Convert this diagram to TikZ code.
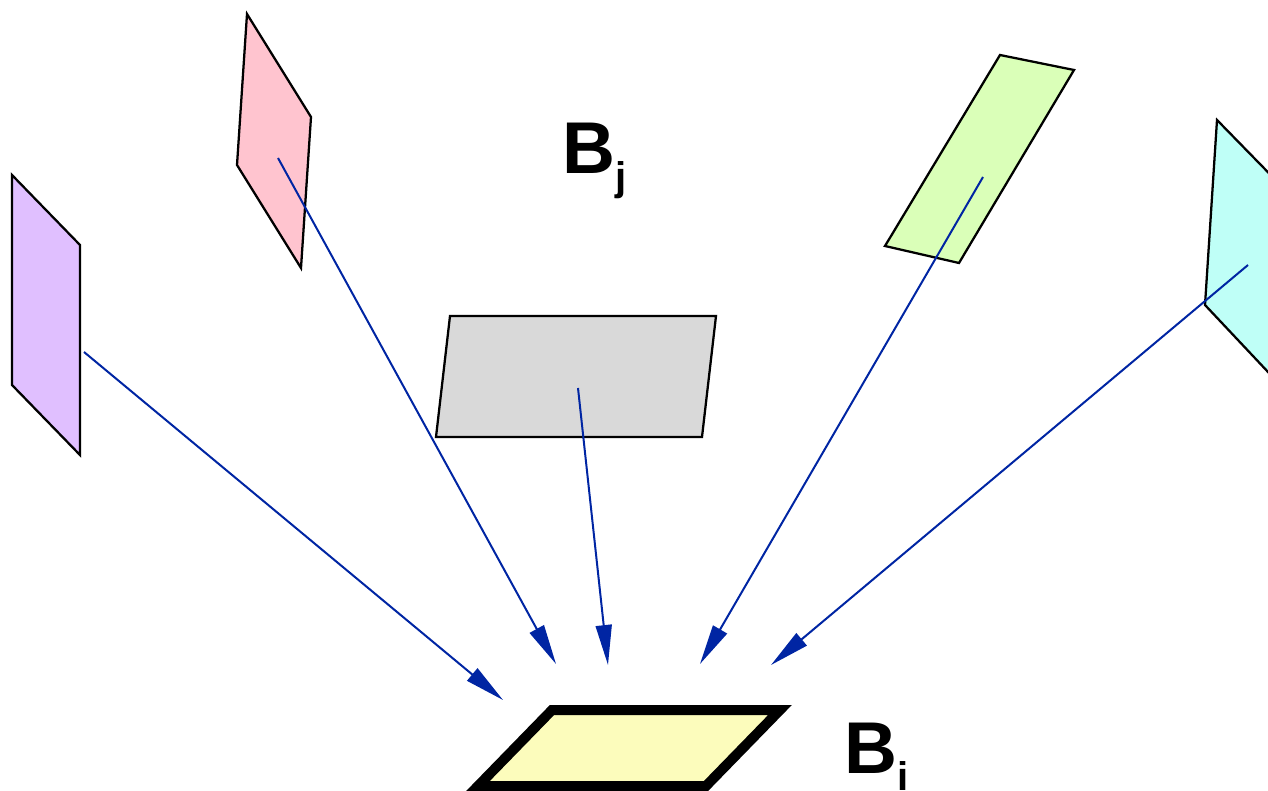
\documentclass[tikz,border=0pt]{standalone}
\usepackage{fontspec}
\setmainfont{Liberation Sans}
\usetikzlibrary{arrows.meta}
\definecolor{purp}{HTML}{E0BFFF}
\definecolor{pinkf}{HTML}{FFC4CF}
\definecolor{grayf}{HTML}{D9D9D9}
\definecolor{greenf}{HTML}{DAFFB8}
\definecolor{cyanf}{HTML}{BFFFF7}
\definecolor{yellf}{HTML}{FCFCBC}
\definecolor{arrblue}{HTML}{0025A3}
\begin{document}
\begin{tikzpicture}[x=0.75pt,y=-0.75pt,
  patch/.style={draw=black,line width=1.7pt,line join=miter},
  ray/.style={draw=arrblue,line width=1.5pt,-{Triangle[length=30pt,width=12pt]}},
  lbl/.style={font=\bfseries\fontsize{55}{60}\selectfont,anchor=base west,inner sep=0pt}]
\useasboundingbox (0,0) rectangle (1268,791);
\begin{scope}
\clip (0,0) rectangle (1268,791);
% patches
\filldraw[patch,fill=purp] (12,175) -- (80,245) -- (80,455) -- (12,385) -- cycle;
\filldraw[patch,fill=pinkf] (247,14) -- (311,117) -- (301,268) -- (237,165) -- cycle;
\filldraw[patch,fill=grayf] (450,316) -- (716,316) -- (702,437) -- (436,437) -- cycle;
\filldraw[patch,fill=greenf] (1000,55) -- (1074,70) -- (959,263) -- (885,246) -- cycle;
\filldraw[patch,fill=cyanf] (1217,120) -- (1300,205) -- (1300,406) -- (1205,305) -- cycle;
\filldraw[draw=black,line width=7.5pt,line join=miter,fill=yellf]
  (552,710) -- (780,710) -- (706,786) -- (478,786) -- cycle;
\end{scope}
% coordinates
\coordinate (s1) at (84,352);
\coordinate (s2) at (278,158);
\coordinate (s3) at (578,388);
\coordinate (s4) at (983,177);
\coordinate (s5) at (1248,265);
\coordinate (e1) at (503,700);
\coordinate (e2) at (556,664);
\coordinate (e3) at (608,665);
\coordinate (e4) at (700,664);
\coordinate (e5) at (771,665);
\draw[ray] (s1) -- (e1);
\draw[ray] (s2) -- (e2);
\draw[ray] (s3) -- (e3);
\draw[ray] (s4) -- (e4);
\draw[ray] (s5) -- (e5);
% labels
\node[lbl] (bj) at (562,174) {B\raisebox{-12.75pt}{\fontsize{30}{34}\selectfont j}};
\node[lbl] (bi) at (844,773) {B\raisebox{-12.75pt}{\fontsize{30}{34}\selectfont i}};
\end{tikzpicture}
\end{document}
